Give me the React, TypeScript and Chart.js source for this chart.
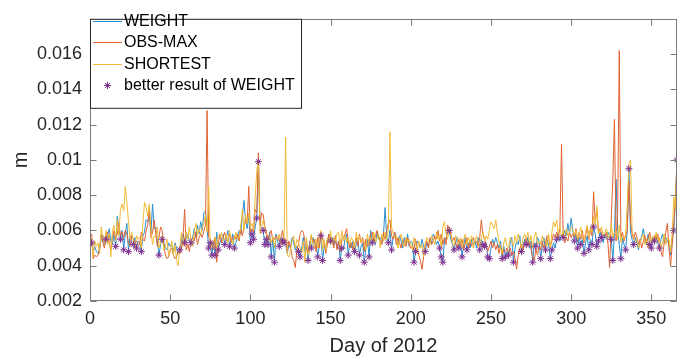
import React, { useEffect, useRef } from 'react';
import { Chart, registerables } from 'chart.js';

Chart.register(...registerables);

// Day of 2012 (1..366)
const days: number[] = Array.from({ length: 366 }, (_, i) => i + 1);

// Values in millimetres (plotted in metres)
const weightMm: number[] = [
  5.3, 4.9, 5.1, 4.8, 4.7, 5.0, 5.5, 5.7, 5.2, 5.5,
  5.7, 6.1, 5.4, 5.2, 5.8, 5.1, 6.8, 6.2, 5.5, 6.0,
  4.9, 5.8, 6.4, 4.8, 5.7, 5.3, 5.2, 5.6, 5.0, 5.4,
  5.3, 4.8, 5.7, 5.9, 6.6, 6.5, 7.0, 5.8, 7.5, 6.1,
  6.2, 5.4, 4.6, 5.2, 5.5, 5.3, 5.0, 4.9, 5.3, 5.1,
  5.2, 4.8, 5.3, 5.0, 4.7, 4.9, 5.5, 5.8, 5.3, 5.6,
  5.8, 5.4, 5.3, 5.6, 6.1, 5.6, 6.3, 5.8, 6.5, 6.0,
  7.0, 7.1, 6.1, 5.0, 5.3, 4.6, 5.4, 4.6, 5.9, 4.9,
  5.3, 5.5, 5.8, 5.2, 5.6, 6.0, 5.1, 5.4, 5.8, 5.0,
  5.3, 5.6, 6.0, 5.8, 6.8, 7.7, 6.5, 6.1, 6.9, 5.3,
  5.8, 5.5, 6.2, 6.7, 9.9, 6.4, 6.2, 6.0, 5.2, 5.5,
  5.2, 5.9, 4.5, 5.6, 4.2, 5.8, 5.4, 5.1, 5.6, 5.4,
  5.3, 5.2, 4.7, 5.2, 5.0, 5.6, 5.3, 4.9, 5.1, 4.8,
  4.5, 5.0, 5.6, 4.8, 5.2, 4.3, 5.4, 5.0, 5.6, 5.2,
  5.3, 4.5, 5.2, 5.7, 4.3, 5.1, 5.0, 5.4, 5.8, 5.4,
  5.6, 5.2, 5.5, 5.0, 5.4, 4.3, 5.0, 4.9, 5.5, 5.8,
  4.6, 5.3, 5.0, 5.4, 4.8, 5.2, 5.5, 4.6, 5.1, 5.3,
  4.2, 5.0, 5.5, 4.5, 6.0, 5.3, 5.6, 5.2, 5.9, 5.5,
  5.6, 5.3, 5.8, 7.3, 5.6, 5.3, 6.0, 4.9, 5.6, 5.9,
  5.5, 5.2, 5.7, 5.4, 5.0, 5.6, 5.3, 5.8, 5.1, 5.4,
  5.3, 4.2, 4.8, 5.4, 5.2, 5.0, 5.5, 5.1, 4.8, 5.3,
  5.1, 5.5, 5.3, 5.8, 5.6, 5.2, 5.4, 5.0, 4.5, 4.2,
  5.4, 5.6, 5.9, 6.0, 5.5, 5.2, 4.9, 5.3, 5.6, 5.0,
  5.4, 4.5, 5.2, 5.6, 4.9, 5.3, 5.0, 5.5, 5.2, 5.4,
  5.0, 5.6, 4.9, 5.5, 5.2, 5.1, 5.3, 4.5, 4.4, 5.0,
  5.5, 5.2, 5.6, 5.3, 5.0, 5.4, 4.4, 5.1, 4.5, 4.8,
  4.6, 5.3, 5.6, 4.2, 5.0, 5.4, 5.2, 5.7, 4.8, 5.1,
  5.5, 5.2, 5.6, 5.0, 5.4, 4.2, 5.3, 5.1, 5.6, 5.4,
  4.4, 5.2, 5.6, 4.9, 5.5, 5.2, 4.4, 4.9, 5.3, 5.0,
  5.5, 5.9, 5.4, 5.8, 5.6, 6.0, 5.7, 6.4, 5.8, 6.7,
  6.0, 5.4, 5.8, 5.0, 5.6, 5.2, 5.5, 4.7, 5.3, 5.7,
  4.9, 5.5, 5.2, 6.2, 5.8, 5.1, 5.4, 5.9, 5.6, 5.3,
  5.8, 5.5, 5.9, 5.7, 5.5, 4.3, 5.8, 8.9, 6.0, 5.2,
  4.4, 5.6, 5.2, 4.9, 6.0, 9.5, 5.9, 5.5, 5.2, 5.6,
  5.3, 4.9, 5.4, 5.7, 6.1, 5.5, 5.2, 5.8, 5.2, 5.0,
  5.6, 5.4, 5.7, 5.3, 5.0, 5.5, 5.8, 5.3, 5.6, 5.4,
  5.2, 4.6, 5.5, 6.0, 7.6, 10.0,
];

const obsMaxMm: number[] = [
  5.8, 4.4, 4.6, 4.5, 4.6, 4.9, 5.8, 5.3, 5.0, 5.8,
  5.9, 5.3, 4.9, 5.6, 6.0, 5.5, 5.8, 6.4, 5.7, 5.9,
  5.6, 6.0, 5.8, 5.3, 5.1, 5.7, 5.5, 5.3, 5.4, 5.2,
  5.2, 5.9, 5.5, 5.4, 6.0, 6.3, 7.3, 5.6, 5.9, 6.6,
  5.8, 5.1, 5.6, 6.2, 6.0, 5.2, 4.6, 4.4, 4.5, 4.9,
  5.0, 4.6, 4.4, 4.5, 4.8, 4.7, 5.0, 5.6, 7.2, 4.9,
  5.2, 4.8, 5.5, 5.6, 5.4, 5.9, 5.2, 5.6, 5.8, 5.6,
  6.0, 6.3, 12.8, 5.6, 5.5, 5.2, 4.9, 5.6, 4.2, 5.2,
  5.8, 5.3, 5.6, 5.9, 5.4, 5.5, 5.8, 5.3, 5.6, 5.7,
  5.5, 5.8, 5.4, 6.1, 5.7, 6.2, 6.6, 6.4, 8.5, 5.8,
  6.1, 5.9, 7.2, 7.0, 10.4, 6.3, 7.0, 6.9, 6.2, 5.9,
  5.5, 5.8, 6.0, 5.4, 5.5, 5.7, 5.6, 5.4, 5.6, 6.0,
  5.4, 5.5, 4.8, 5.4, 5.1, 4.5, 4.3, 3.9, 4.9, 5.2,
  5.8, 6.0, 5.9, 5.4, 5.0, 4.7, 5.2, 5.7, 5.3, 5.5,
  4.8, 5.6, 5.0, 5.9, 5.5, 5.3, 4.7, 5.2, 5.8, 5.6,
  5.5, 5.0, 5.7, 4.9, 5.4, 4.8, 5.5, 5.6, 5.8, 6.1,
  5.4, 5.0, 5.3, 4.9, 5.2, 5.6, 5.1, 5.8, 5.3, 5.6,
  4.8, 5.5, 5.1, 5.3, 5.8, 5.9, 5.4, 5.7, 6.0, 5.6,
  5.4, 5.2, 5.9, 5.5, 6.0, 6.4, 6.6, 5.7, 5.5, 5.9,
  5.2, 5.6, 5.3, 5.0, 5.5, 5.4, 5.1, 5.6, 5.2, 5.0,
  5.1, 4.9, 5.5, 5.0, 4.6, 4.3, 3.8, 4.5, 5.1, 5.4,
  5.0, 5.6, 5.2, 5.4, 5.7, 5.5, 6.0, 5.4, 5.8, 5.2,
  5.6, 5.2, 6.3, 6.1, 5.8, 5.4, 5.6, 5.3, 5.0, 5.5,
  5.2, 5.5, 4.9, 5.3, 5.6, 5.0, 5.4, 5.1, 5.6, 5.3,
  5.4, 5.1, 5.6, 6.6, 5.8, 5.5, 5.2, 4.8, 5.1, 5.4,
  5.0, 5.3, 4.9, 5.2, 4.7, 5.1, 4.6, 4.9, 4.8, 5.0,
  4.7, 5.0, 4.6, 4.8, 4.4, 3.8, 4.6, 5.0, 5.2, 4.9,
  5.3, 5.6, 5.1, 5.4, 4.9, 4.5, 4.3, 5.0, 4.6, 5.1,
  4.9, 5.4, 5.0, 5.3, 5.7, 5.5, 5.1, 5.4, 5.8, 5.6,
  5.9, 5.5, 6.2, 10.9, 5.8, 5.3, 5.6, 5.4, 5.9, 5.6,
  5.8, 5.6, 6.1, 5.4, 5.9, 5.5, 6.0, 5.3, 5.7, 6.2,
  5.5, 6.0, 5.7, 8.2, 6.5, 7.2, 5.9, 6.1, 5.8, 5.6,
  5.6, 5.9, 5.2, 3.9, 6.6, 9.0, 12.3, 5.4, 7.0, 16.2,
  5.6, 5.9, 5.4, 5.7, 6.0, 8.8, 6.6, 5.8, 5.5, 5.9,
  5.6, 5.2, 5.5, 5.0, 5.4, 5.7, 5.3, 5.6, 5.9, 5.4,
  5.3, 5.7, 5.5, 5.8, 5.2, 4.8, 4.5, 5.3, 5.9, 6.4,
  5.0, 4.0, 5.2, 6.4, 7.8, 9.8,
];

const shortestMm: number[] = [
  5.6, 4.5, 5.4, 5.1, 5.3, 4.7, 6.2, 5.7, 5.3, 6.0,
  5.2, 5.8, 4.5, 6.0, 6.3, 5.4, 6.6, 5.7, 7.2, 7.5,
  7.1, 8.5, 7.6, 6.5, 5.5, 5.9, 5.4, 5.0, 5.7, 5.5,
  5.6, 5.0, 6.4, 7.6, 7.3, 6.8, 7.5, 6.0, 5.2, 5.7,
  5.6, 6.2, 5.0, 5.3, 5.7, 4.9, 5.1, 5.5, 4.6, 4.8,
  5.4, 4.6, 5.2, 4.3, 4.0, 5.0, 5.9, 5.1, 5.6, 5.9,
  5.5, 6.2, 5.4, 5.1, 5.9, 6.4, 5.7, 6.1, 5.8, 6.2,
  6.4, 6.9, 5.9, 8.5, 5.0, 5.2, 5.4, 5.6, 5.0, 5.7,
  5.6, 5.9, 5.4, 5.5, 5.8, 5.3, 6.0, 5.6, 5.2, 5.5,
  5.9, 5.5, 5.6, 6.3, 7.2, 6.0, 6.9, 6.4, 7.0, 6.2,
  6.4, 6.0, 7.9, 9.4, 10.0, 5.8, 6.2, 6.6, 6.1, 5.7,
  5.4, 5.6, 5.3, 5.7, 5.0, 5.6, 5.5, 5.8, 5.2, 5.5,
  5.5, 11.3, 4.6, 4.5, 4.9, 5.4, 5.7, 5.0, 5.5, 5.3,
  5.0, 4.7, 5.4, 4.2, 5.6, 4.6, 4.9, 5.8, 5.2, 5.0,
  5.5, 5.0, 5.6, 6.0, 4.9, 5.5, 4.9, 5.6, 5.3, 6.0,
  5.2, 5.6, 5.4, 5.8, 5.9, 5.1, 6.0, 5.4, 5.7, 5.3,
  5.6, 5.2, 5.6, 5.4, 5.0, 5.9, 5.4, 5.7, 5.3, 5.5,
  5.4, 4.9, 5.8, 5.2, 5.6, 5.5, 5.9, 5.3, 5.6, 5.8,
  5.0, 5.8, 5.4, 5.9, 5.5, 6.0, 11.6, 6.2, 5.8, 5.6,
  5.7, 5.0, 5.5, 5.8, 5.3, 5.1, 5.6, 5.3, 5.5, 5.2,
  4.9, 5.6, 5.3, 4.8, 5.4, 5.0, 5.2, 4.5, 5.3, 5.6,
  5.4, 5.2, 5.7, 5.5, 5.2, 5.9, 5.5, 5.7, 5.0, 6.2,
  6.5, 5.8, 5.5, 6.2, 5.9, 5.3, 5.1, 5.7, 5.5, 5.2,
  5.6, 5.0, 5.5, 5.8, 5.2, 5.6, 5.3, 5.7, 5.0, 5.4,
  5.7, 5.3, 5.0, 5.6, 5.9, 5.4, 5.7, 5.5, 6.0, 6.5,
  6.3, 6.1, 6.6, 5.9, 5.4, 5.0, 4.7, 5.3, 5.6, 5.1,
  5.0, 5.6, 5.4, 5.1, 5.7, 5.3, 5.8, 5.4, 5.0, 5.6,
  5.8, 5.5, 5.9, 5.3, 5.7, 5.0, 5.6, 5.9, 5.2, 5.4,
  5.2, 5.7, 5.4, 5.5, 5.1, 5.8, 5.0, 5.9, 6.5, 6.2,
  6.6, 5.8, 6.3, 5.6, 6.0, 5.5, 6.1, 5.7, 5.9, 6.2,
  6.1, 5.7, 6.0, 5.5, 5.8, 6.2, 5.6, 5.4, 5.9, 6.3,
  5.6, 6.2, 5.9, 6.8, 6.3, 7.4, 5.8, 6.0, 6.2, 5.7,
  5.9, 6.1, 5.7, 5.5, 6.4, 5.6, 5.9, 6.0, 5.5, 6.3,
  5.3, 5.7, 5.5, 5.8, 7.5, 9.8, 10.0, 6.0, 5.6, 5.4,
  5.5, 5.0, 5.3, 5.6, 5.8, 5.2, 5.5, 5.0, 5.7, 5.3,
  5.7, 5.5, 5.9, 5.4, 5.6, 5.0, 5.3, 5.8, 5.2, 5.6,
  5.5, 4.8, 5.9, 7.9, 7.2, 10.4,
];

// Days on which WEIGHT gives the better result
const betterDays: number[] = [
  1, 10, 16, 19, 21, 24, 27, 29, 32, 43, 45, 56, 59, 63, 74, 75, 76, 78, 80, 84,
  87, 90, 100, 101, 102, 104, 105, 108, 109, 110, 111, 113, 115, 118, 120, 121,
  130, 131, 136, 138, 142, 144, 145, 150, 156, 157, 161, 165, 168, 171, 174, 176,
  186, 188, 202, 203, 209, 218, 219, 220, 224, 227, 230, 232, 235, 243, 245, 246,
  248, 249, 257, 259, 261, 264, 269, 272, 276, 278, 281, 284, 287, 288, 291, 295,
  302, 304, 306, 308, 311, 313, 314, 316, 317, 319, 325, 326, 331, 334, 336, 339,
  349, 350, 352, 355, 364, 366,
];

const xTicks: number[] = [0, 50, 100, 150, 200, 250, 300, 350];
const yTicks: number[] = [0.002, 0.004, 0.006, 0.008, 0.01, 0.012, 0.014, 0.016];
const yTickLabels: string[] = ['0.002', '0.004', '0.006', '0.008', '0.01', '0.012', '0.014', '0.016'];

const COLORS = {
  weight: '#2a8fd2',
  obs: '#e06332',
  shortest: '#f0bb38',
  marker: '#7E2F8E',
  axis: '#262626',
};

const FONT = "'Liberation Sans', Arial, Helvetica, sans-serif";

const series = (mm: number[]) => days.map((d, i) => ({ x: d, y: mm[i] / 1000 }));

const boxPlugin = {
  id: 'matlabBox',
  afterDatasetsDraw(chart: any) {
    const { ctx, chartArea: a, scales } = chart;
    ctx.save();
    ctx.strokeStyle = '#7a7a7a';
    ctx.lineWidth = 1;
    const l = Math.round(a.left) + 0.5;
    const r = Math.round(a.right) - 0.5;
    const t = Math.round(a.top) + 0.5;
    const b = Math.round(a.bottom) - 0.5;
    ctx.strokeRect(l, t, r - l, b - t);
    const tl = 6;
    ctx.beginPath();
    xTicks.forEach((v) => {
      const px = Math.round(scales.x.getPixelForValue(v)) + 0.5;
      ctx.moveTo(px, b);
      ctx.lineTo(px, b - tl);
      ctx.moveTo(px, t);
      ctx.lineTo(px, t + tl);
    });
    yTicks.forEach((v) => {
      const py = Math.round(scales.y.getPixelForValue(v)) + 0.5;
      ctx.moveTo(l, py);
      ctx.lineTo(l + tl, py);
      ctx.moveTo(r, py);
      ctx.lineTo(r - tl, py);
    });
    ctx.stroke();
    ctx.restore();
  },
};

const legendPlugin = {
  id: 'matlabLegend',
  afterDraw(chart: any) {
    const { ctx, chartArea: a } = chart;
    const x0 = a.left + 0.5;
    const y0 = a.top + 0.5;
    const w = 211;
    const h = 89;
    ctx.save();
    ctx.fillStyle = '#ffffff';
    ctx.fillRect(x0, y0, w, h);
    ctx.strokeStyle = '#262626';
    ctx.lineWidth = 1;
    ctx.strokeRect(x0, y0, w, h);
    const rows = [
      { label: 'WEIGHT', color: COLORS.weight, kind: 'line', y: 20.5 },
      { label: 'OBS-MAX', color: COLORS.obs, kind: 'line', y: 42 },
      { label: 'SHORTEST', color: COLORS.shortest, kind: 'line', y: 63.5 },
      { label: 'better result of WEIGHT', color: COLORS.marker, kind: 'marker', y: 85 },
    ];
    ctx.font = `16px ${FONT}`;
    ctx.textBaseline = 'middle';
    ctx.textAlign = 'left';
    rows.forEach((row) => {
      const yy = Math.round(row.y) + 0.5;
      if (row.kind === 'line') {
        ctx.strokeStyle = row.color;
        ctx.lineWidth = 1;
        ctx.beginPath();
        ctx.moveTo(a.left + 3, yy);
        ctx.lineTo(a.left + 32, yy);
        ctx.stroke();
      } else {
        const cx = a.left + 17.5;
        const rr = 3.5;
        ctx.strokeStyle = row.color;
        ctx.lineWidth = 1;
        ctx.beginPath();
        ctx.moveTo(cx - rr, yy);
        ctx.lineTo(cx + rr, yy);
        ctx.moveTo(cx, yy - rr);
        ctx.lineTo(cx, yy + rr);
        const d = rr * 0.707;
        ctx.moveTo(cx - d, yy - d);
        ctx.lineTo(cx + d, yy + d);
        ctx.moveTo(cx - d, yy + d);
        ctx.lineTo(cx + d, yy - d);
        ctx.stroke();
      }
      ctx.fillStyle = '#000000';
      ctx.fillText(row.label, a.left + 34, row.y + 1);
    });
    ctx.restore();
  },
};

export default function App() {
  const canvasRef = useRef<HTMLCanvasElement | null>(null);

  useEffect(() => {
    document.body.style.margin = '0';
    const canvas = canvasRef.current;
    if (!canvas) return;
    const chart = new Chart(canvas, {
      type: 'line',
      data: {
        datasets: [
          {
            label: 'better result of WEIGHT',
            data: betterDays.map((d) => ({ x: d, y: weightMm[d - 1] / 1000 })),
            showLine: false,
            pointStyle: 'star',
            pointRadius: 3.5,
            pointBorderColor: COLORS.marker,
            pointBackgroundColor: COLORS.marker,
            pointBorderWidth: 1,
            borderColor: COLORS.marker,
            order: 1,
          },
          {
            label: 'SHORTEST',
            data: series(shortestMm),
            borderColor: COLORS.shortest,
            borderWidth: 1,
            pointRadius: 0,
            tension: 0,
            order: 2,
          },
          {
            label: 'OBS-MAX',
            data: series(obsMaxMm),
            borderColor: COLORS.obs,
            borderWidth: 1,
            pointRadius: 0,
            tension: 0,
            order: 3,
          },
          {
            label: 'WEIGHT',
            data: series(weightMm),
            borderColor: COLORS.weight,
            borderWidth: 1,
            pointRadius: 0,
            tension: 0,
            order: 4,
          },
        ],
      },
      options: {
        responsive: false,
        animation: false,
        events: [],
        layout: { padding: { top: 6, right: 13, left: 0, bottom: 0 } },
        plugins: {
          legend: { display: false },
          tooltip: { enabled: false },
        },
        scales: {
          x: {
            type: 'linear',
            min: 0,
            max: 366,
            grid: { display: false, drawTicks: false },
            border: { display: false },
            afterBuildTicks: (scale: any) => {
              scale.ticks = xTicks.map((v) => ({ value: v }));
            },
            afterFit: (scale: any) => {
              scale.height = 59;
            },
            ticks: {
              color: COLORS.axis,
              font: { family: FONT, size: 18 },
              padding: 7,
              maxRotation: 0,
              autoSkip: false,
              callback: (v: any) => String(v),
            },
            title: {
              display: true,
              text: 'Day of 2012',
              color: COLORS.axis,
              font: { family: FONT, size: 20 },
              padding: { top: 0, bottom: 2 },
            },
          },
          y: {
            type: 'linear',
            min: 0.002,
            max: 0.018,
            grid: { display: false, drawTicks: false },
            border: { display: false },
            afterBuildTicks: (scale: any) => {
              scale.ticks = yTicks.map((v) => ({ value: v }));
            },
            afterFit: (scale: any) => {
              scale.width = 90;
            },
            ticks: {
              color: COLORS.axis,
              font: { family: FONT, size: 18 },
              padding: 8,
              autoSkip: false,
              callback: (_v: any, i: number) => yTickLabels[i],
            },
            title: {
              display: true,
              text: 'm',
              color: COLORS.axis,
              font: { family: FONT, size: 20 },
              padding: { top: 9, bottom: 0 },
            },
          },
        },
      },
      plugins: [boxPlugin, legendPlugin],
    });
    return () => chart.destroy();
  }, []);

  return <canvas ref={canvasRef} width={690} height={360} style={{ display: 'block' }} />;
}
